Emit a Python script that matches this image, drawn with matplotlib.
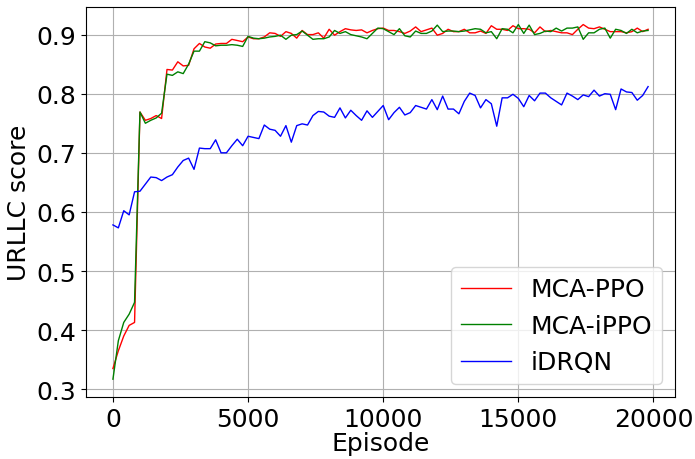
import numpy as np
import matplotlib
matplotlib.use("Agg")
import matplotlib.pyplot as plt

# episodes (every 200)
episodes = np.arange(0, 20000, 200)

mca_ppo = [
    0.335, 0.365, 0.390, 0.408, 0.413, 0.769, 0.755, 0.758, 0.763, 0.758,
    0.841, 0.840, 0.854, 0.847, 0.848, 0.876, 0.885, 0.879, 0.877, 0.884,
    0.885, 0.885, 0.892, 0.890, 0.888, 0.896, 0.893, 0.893, 0.896, 0.903,
    0.902, 0.897, 0.905, 0.902, 0.894, 0.907, 0.900, 0.900, 0.903, 0.894,
    0.909, 0.899, 0.905, 0.910, 0.908, 0.907, 0.908, 0.903, 0.907, 0.910,
    0.911, 0.907, 0.907, 0.905, 0.902, 0.906, 0.913, 0.905, 0.908, 0.911,
    0.899, 0.902, 0.909, 0.905, 0.905, 0.909, 0.903, 0.903, 0.906, 0.902,
    0.915, 0.909, 0.909, 0.907, 0.915, 0.910, 0.910, 0.909, 0.903, 0.913,
    0.905, 0.907, 0.905, 0.903, 0.903, 0.900, 0.909, 0.917, 0.911, 0.910,
    0.913, 0.909, 0.905, 0.905, 0.905, 0.903, 0.905, 0.911, 0.905, 0.909,
]

mca_ippo = [
    0.317, 0.382, 0.413, 0.427, 0.447, 0.769, 0.750, 0.755, 0.759, 0.767,
    0.833, 0.831, 0.837, 0.834, 0.850, 0.872, 0.872, 0.888, 0.886, 0.881,
    0.882, 0.882, 0.883, 0.882, 0.880, 0.897, 0.894, 0.893, 0.894, 0.896,
    0.897, 0.899, 0.892, 0.899, 0.900, 0.906, 0.899, 0.892, 0.893, 0.893,
    0.896, 0.907, 0.902, 0.905, 0.900, 0.898, 0.896, 0.893, 0.902, 0.911,
    0.910, 0.905, 0.900, 0.910, 0.898, 0.896, 0.906, 0.902, 0.902, 0.906,
    0.916, 0.905, 0.906, 0.906, 0.905, 0.906, 0.908, 0.910, 0.909, 0.903,
    0.905, 0.893, 0.910, 0.909, 0.903, 0.917, 0.902, 0.916, 0.900, 0.902,
    0.906, 0.905, 0.911, 0.906, 0.911, 0.911, 0.913, 0.892, 0.903, 0.903,
    0.909, 0.911, 0.894, 0.909, 0.907, 0.902, 0.909, 0.903, 0.906, 0.907,
]

idrqn = [
    0.578, 0.573, 0.602, 0.595, 0.634, 0.635, 0.647, 0.659, 0.658, 0.653,
    0.659, 0.663, 0.676, 0.687, 0.691, 0.672, 0.708, 0.707, 0.707, 0.722,
    0.700, 0.700, 0.712, 0.723, 0.712, 0.728, 0.726, 0.724, 0.747, 0.740,
    0.738, 0.728, 0.746, 0.718, 0.746, 0.749, 0.747, 0.763, 0.770, 0.769,
    0.762, 0.760, 0.776, 0.759, 0.772, 0.763, 0.755, 0.771, 0.760, 0.770,
    0.780, 0.756, 0.768, 0.777, 0.764, 0.768, 0.780, 0.777, 0.774, 0.790,
    0.773, 0.796, 0.774, 0.774, 0.766, 0.787, 0.801, 0.797, 0.776, 0.790,
    0.783, 0.745, 0.793, 0.793, 0.799, 0.792, 0.778, 0.797, 0.788, 0.801,
    0.801, 0.793, 0.787, 0.781, 0.801, 0.796, 0.790, 0.798, 0.795, 0.806,
    0.796, 0.800, 0.799, 0.773, 0.808, 0.803, 0.802, 0.789, 0.797, 0.812,
]

fig = plt.figure(figsize=(6.95, 4.6), dpi=100)
ax = fig.add_axes([0.124, 0.135, 0.847, 0.848])

ax.plot(episodes, mca_ppo, color="red", linewidth=1, label="MCA-PPO")
ax.plot(episodes, mca_ippo, color="green", linewidth=1, label="MCA-iPPO")
ax.plot(episodes, idrqn, color="blue", linewidth=1, label="iDRQN")

ax.set_xticks([0, 5000, 10000, 15000, 20000])
ax.set_yticks([0.3, 0.4, 0.5, 0.6, 0.7, 0.8, 0.9])
ax.tick_params(labelsize=18)
ax.set_xlabel("Episode", fontsize=18, labelpad=0)
ax.set_ylabel("URLLC score", fontsize=18)
ax.grid(True)

ax.legend(loc="lower right", fontsize=18)

fig.savefig("out.png", dpi=100)
